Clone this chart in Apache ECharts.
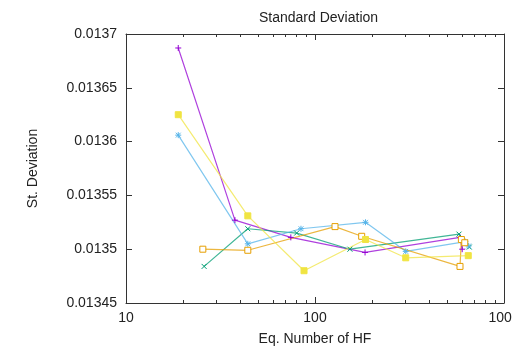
<!DOCTYPE html>
<html>
<head>
<meta charset="utf-8">
<script src="https://cdn.jsdelivr.net/npm/echarts@6/dist/echarts.min.js"></script>
<style>html,body{margin:0;padding:0;background:#fff}#c{width:512px;height:349px}</style>
</head>
<body>
<div id="c"></div>
<script>
// ---- data ----
const purpleX = [18.9, 37.7, 74.5, 184, 585, 601];
const purpleY = [0.013687, 0.013527, 0.013511, 0.013497, 0.013511, 0.0135];
const greenX = [25.9, 44.1, 80, 153, 578, 655];
const greenY = [0.013484, 0.013519, 0.013515, 0.0135, 0.013514, 0.013502];
const blueX = [18.9, 44.1, 84.3, 185, 302, 625, 650];
const blueY = [0.013606, 0.013505, 0.013519, 0.013525, 0.013498, 0.013507, 0.013503];
const orangeX = [25.5, 44.1, 127.6, 176.6, 585, 595, 620];
const orangeY = [0.0135, 0.013499, 0.013521, 0.013512, 0.013484, 0.013509, 0.013506];
const yellowX = [18.9, 44.1, 87.5, 185, 302, 647];
const yellowY = [0.013625, 0.013531, 0.01348, 0.013509, 0.013492, 0.013494];

const xMajorTicks = [10, 100, 1000];
const xMinorTicks = [20, 30, 40, 50, 60, 70, 80, 90, 200, 300, 400, 500, 600, 700, 800, 900];
const yTicks = [0.01345, 0.0135, 0.01355, 0.0136, 0.01365, 0.0137];

const FONT = 'Liberation Sans';
const AX = '#333';
const TXT = '#222';

function pairs(xs, ys) { return xs.map((x, i) => [x, ys[i]]); }

function xAx(pos, ticks, len, labels, extra) {
  return Object.assign({
    type: 'log', logBase: 10, min: 10, max: 1000, position: pos, gridIndex: 0,
    axisLine: { show: false },
    axisTick: { show: true, inside: true, length: len, customValues: ticks, lineStyle: { color: AX, width: 1 } },
    axisLabel: labels ? { show: true, customValues: xMajorTicks, margin: 8, color: TXT, fontFamily: FONT, fontSize: 14,
      hideOverlap: false, formatter: v => String(Math.round(v)) } : { show: false },
    splitLine: { show: false }, minorTick: { show: false }
  }, extra || {});
}

function yAx(pos, labels, extra) {
  return Object.assign({
    type: 'value', min: 0.01345, max: 0.0137, position: pos, gridIndex: 0,
    axisLine: { show: true, lineStyle: { color: AX, width: 1 } },
    axisTick: { show: true, inside: true, length: 6, customValues: yTicks, lineStyle: { color: AX, width: 1 } },
    axisLabel: labels ? { show: true, customValues: yTicks, margin: 9, color: TXT, fontFamily: FONT, fontSize: 14,
      formatter: v => String(+(+v).toFixed(5)) } : { show: false },
    splitLine: { show: false }
  }, extra || {});
}

const pluss = 'path://M5,0L5,10M0,5L10,5';
const cross = 'path://M0,0L10,10M10,0L0,10';
const star = 'path://M5,0L5,10M0,5L10,5M1,1L9,9M9,1L1,9';

function ser(name, xs, ys, color, symbol, size, empty) {
  return {
    name, type: 'line', xAxisIndex: 0, yAxisIndex: 0,
    data: pairs(xs, ys),
    symbol, symbolSize: size, showSymbol: true,
    lineStyle: { color, width: 1.2, opacity: 0.75 },
    itemStyle: { color: empty ? '#fff' : color, borderColor: color, borderWidth: 1 },
    emphasis: { disabled: true },
    animation: false
  };
}

const chart = echarts.init(document.getElementById('c'), null, { renderer: 'canvas' });
chart.setOption({
  animation: false,
  backgroundColor: '#fff',
  title: {
    text: 'Standard Deviation', left: 254, top: 6,
    textStyle: { fontFamily: FONT, fontSize: 14, fontWeight: 'normal', color: TXT }
  },
  grid: { left: 126, right: 8, top: 34, bottom: 46, containLabel: false, outerBoundsMode: 'none' },
  xAxis: [
    xAx('bottom', xMajorTicks, 6, true, {
      axisLine: { show: true, lineStyle: { color: AX, width: 1 } },
      name: 'Eq. Number of HF', nameLocation: 'middle', nameGap: 29,
      nameTextStyle: { fontFamily: FONT, fontSize: 14, color: TXT }
    }),
    xAx('bottom', xMinorTicks, 3, false),
    xAx('top', xMajorTicks, 6, false, { axisLine: { show: true, lineStyle: { color: AX, width: 1 } } }),
    xAx('top', xMinorTicks, 3, false)
  ],
  yAxis: [
    yAx('left', true, {
      name: 'St. Deviation', nameLocation: 'middle', nameGap: 86, nameRotate: 90,
      nameTextStyle: { fontFamily: FONT, fontSize: 14, color: TXT }
    }),
    yAx('right', false)
  ],
  series: [
    ser('purple', purpleX, purpleY, '#9400d3', pluss, 6, false),
    ser('green', greenX, greenY, '#009e73', cross, 5, false),
    ser('blue', blueX, blueY, '#56b4e9', star, 6, false),
    ser('orange', orangeX, orangeY, '#e69f00', 'rect', 6, true),
    ser('yellow', yellowX, yellowY, '#f0e442', 'rect', 6, false)
  ]
});
</script>
</body>
</html>
